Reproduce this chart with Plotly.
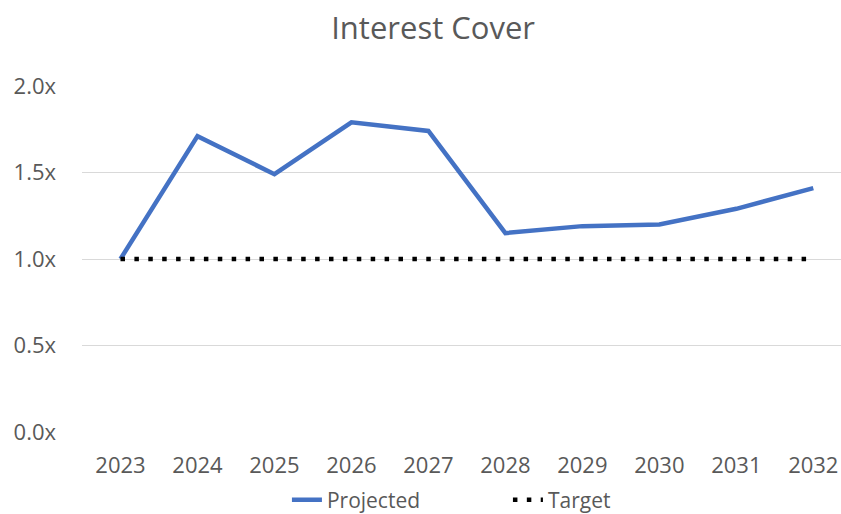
import plotly.graph_objects as go

years = ["2023", "2024", "2025", "2026", "2027", "2028", "2029", "2030", "2031", "2032"]
projected = [1.00, 1.71, 1.49, 1.79, 1.74, 1.15, 1.19, 1.20, 1.29, 1.41]
target = [1.0] * len(years)
y_ticks = [0.0, 0.5, 1.0, 1.5, 2.0]
y_tick_labels = ["0.0x", "0.5x", "1.0x", "1.5x", "2.0x"]

GRAY = "#595959"
FONT = "Open Sans"

fig = go.Figure()
fig.add_trace(go.Scatter(x=years, y=projected, mode="lines", name="Projected",
                         line=dict(color="#4472C4", width=4.5)))
fig.add_trace(go.Scatter(x=years, y=target, mode="lines", name="Target",
                         line=dict(color="#000000", width=4.5, dash="4.5px,9.4px")))

fig.update_layout(
    width=841, height=514,
    margin=dict(l=82, r=0, t=86, b=82, autoexpand=False),
    paper_bgcolor="white", plot_bgcolor="white",
    title=dict(text="Interest Cover", x=0.515, xanchor="center", y=0.945, yanchor="middle",
               font=dict(family=FONT, size=31, color=GRAY)),
    font=dict(family=FONT, size=21, color=GRAY),
    showlegend=True,
    legend=dict(orientation="h", x=0.27, xanchor="left", y=-0.197, yanchor="middle",
                bgcolor="rgba(0,0,0,0)", font=dict(family=FONT, size=21, color=GRAY),
                entrywidth=176, entrywidthmode="pixels"),
    xaxis=dict(type="category", range=[-0.5, 9.36], showgrid=False, showline=False,
               ticks="", ticklabelstandoff=18, tickfont=dict(size=22, color=GRAY)),
    yaxis=dict(range=[0, 2.0], tickvals=y_ticks, ticktext=y_tick_labels,
               showgrid=True, gridcolor="#D9D9D9", gridwidth=1, zeroline=False,
               showline=False, ticks="", ticklabelstandoff=25,
               tickfont=dict(size=22, color=GRAY)),
)

fig.write_html("out.html")
